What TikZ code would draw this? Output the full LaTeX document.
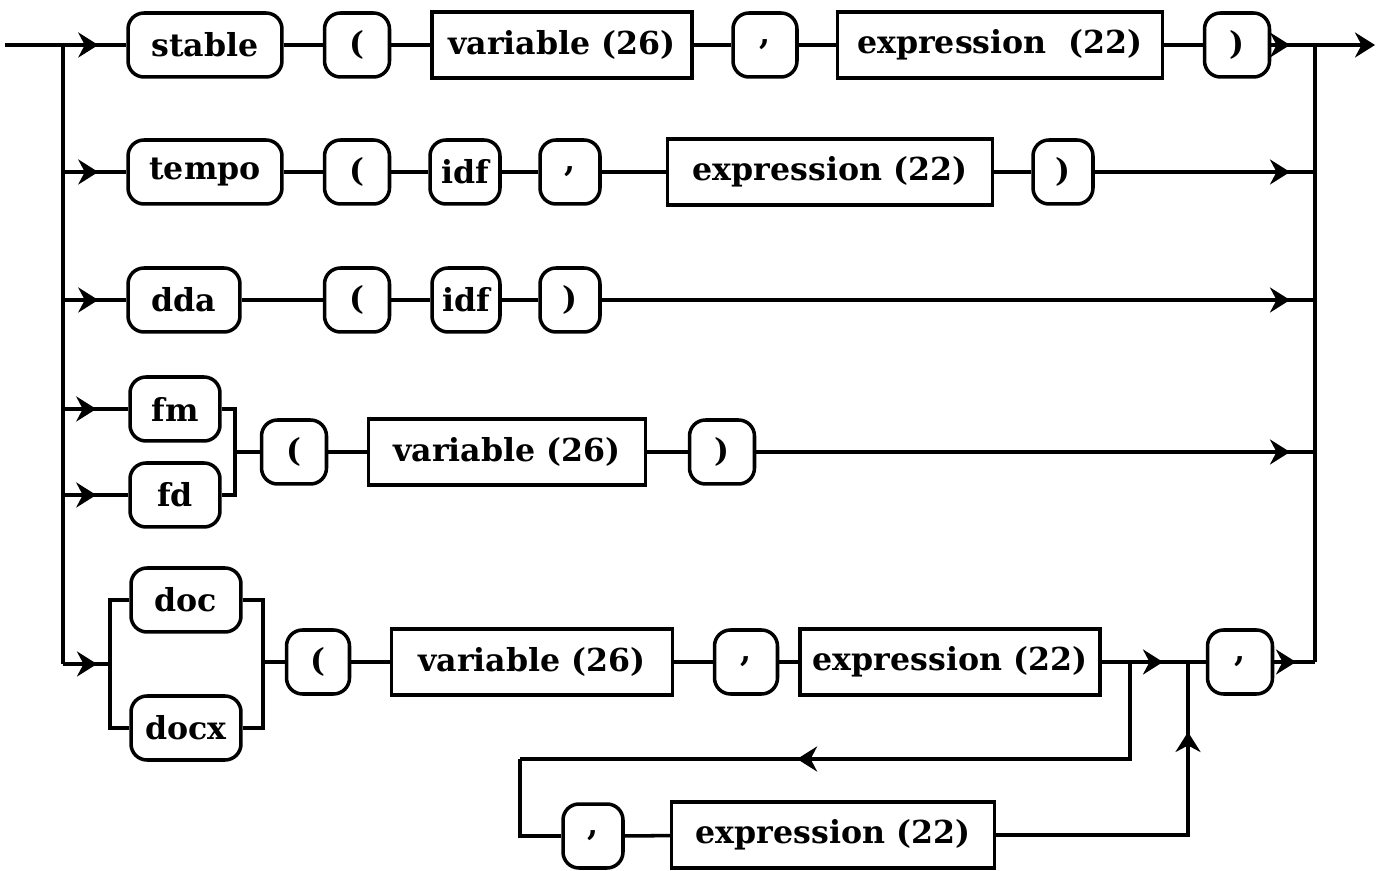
\documentclass[tikz,border=0pt]{standalone}
\usepackage{fontspec}
\setmainfont{DejaVu Serif}
\usetikzlibrary{arrows.meta,decorations.markings}
\tikzset{
  term/.style={draw,rounded corners=0.32cm,minimum height=1.28cm,inner sep=0pt,
               font=\fontsize{18}{22}\selectfont\bfseries},
  nonterm/.style={draw,minimum height=1.32cm,inner sep=0pt,
                  font=\fontsize{18}{22}\selectfont\bfseries},
  flow/.style={line width=2pt},
  midarrow/.style={postaction={decorate},decoration={markings,
                   mark=at position #1 with {\arrow{Stealth[length=4mm,width=5mm,inset=1.3mm]}}}},
}

\begin{document}
\begin{tikzpicture}[x=0.02cm,y=-0.02cm,line width=2pt]
  \useasboundingbox (0,0) rectangle (1384,871);
  % row 1
  \node[term] (stable) at (205,45) [minimum width=3.08cm] {stable};
  \node[term] (lpa) at (357,45) [minimum width=1.3cm] {(};
  \node[nonterm] (vara) at (562,45) [minimum width=5.2cm] {variable (26)};
  \node[term] (cma) at (765,45) [minimum width=1.28cm] {,};
  \node[nonterm] (expa) at (1000,45) [minimum width=6.5cm] {expression\ \ (22)};
  \node[term] (rpa) at (1237,45) [minimum width=1.3cm] {)};
  % row 2
  \node[term] (tempo) at (205,172) [minimum width=3.08cm] {tempo};
  \node[term] (lpb) at (357,172) [minimum width=1.3cm] {(};
  \node[term] (idfb) at (465,172) [minimum width=1.4cm] {idf};
  \node[term] (cmb) at (570,172) [minimum width=1.2cm] {,};
  \node[nonterm] (expb) at (830,172) [minimum width=6.5cm] {expression (22)};
  \node[term] (rpb) at (1063,172) [minimum width=1.2cm] {)};
  % row 3
  \node[term] (dda) at (184,300) [minimum width=2.24cm] {dda};
  \node[term] (lpc) at (357,300) [minimum width=1.3cm] {(};
  \node[term] (idfc) at (466,300) [minimum width=1.36cm] {idf};
  \node[term] (rpc) at (570,300) [minimum width=1.2cm] {)};
  % row 4
  \node[term] (fm) at (175,409) [minimum width=1.8cm] {fm};
  \node[term] (fd) at (175,495) [minimum width=1.8cm] {fd};
  \node[term] (lpd) at (294,452) [minimum width=1.3cm] {(};
  \node[nonterm] (vard) at (507,452) [minimum width=5.54cm] {variable (26)};
  \node[term] (rpd) at (722,452) [minimum width=1.3cm] {)};
  % row 5
  \node[term] (doc) at (186,600) [minimum width=2.2cm] {doc};
  \node[term] (docx) at (186,728) [minimum width=2.2cm] {docx};
  \node[term] (lpe) at (318,662) [minimum width=1.26cm] {(};
  \node[nonterm] (vare) at (532,662) [minimum width=5.62cm] {variable (26)};
  \node[term] (cme) at (746,662) [minimum width=1.26cm] {,};
  \node[nonterm] (expe) at (950,662) [minimum width=6cm] {expression (22)};
  \node[term] (cmf) at (1240,662) [minimum width=1.3cm] {,};
  \node[term] (cmg) at (593,836) [minimum width=1.2cm] {,};
  \node[nonterm] (expg) at (833,835) [minimum width=6.46cm] {expression (22)};

  \coordinate (in) at (5,45);
  \coordinate (out) at (1375,45);
  \coordinate (la) at (63,45);  \coordinate (lb) at (63,172);
  \coordinate (lc) at (63,300); \coordinate (ld) at (63,409);
  \coordinate (lf) at (63,495); \coordinate (le) at (63,664);
  \coordinate (ra) at (1315,45);  \coordinate (rb) at (1315,172);
  \coordinate (rc) at (1315,300); \coordinate (rd) at (1315,452);
  \coordinate (re) at (1315,662);
  \coordinate (bd) at (235,452); \coordinate (bl) at (110,664);
  \coordinate (be) at (263,662);
  \coordinate (lp) at (1130,662); \coordinate (jn) at (1188,662);
  \coordinate (lk) at (520,759);

  % rails
  \draw[flow] (la) -- (le);
  \draw[flow] (ra) -- (re);
  \draw[flow,midarrow=-0.56cm] (in) -- (stable.west);
  \draw[flow,-{Stealth[length=4mm,width=5mm,inset=1.3mm]}] (ra) -- (out);
  % row 1
  \draw[flow] (stable) -- (lpa) (lpa) -- (vara) (vara) -- (cma) (cma) -- (expa) (expa) -- (rpa);
  \draw[flow,midarrow=-0.5cm] (rpa.east) -- (ra);
  % row 2
  \draw[flow,midarrow=-0.56cm] (lb) -- (tempo.west);
  \draw[flow] (tempo) -- (lpb) (lpb) -- (idfb) (idfb) -- (cmb) (cmb) -- (expb) (expb) -- (rpb);
  \draw[flow,midarrow=-0.5cm] (rpb.east) -- (rb);
  % row 3
  \draw[flow,midarrow=-0.56cm] (lc) -- (dda.west);
  \draw[flow] (dda) -- (lpc) (lpc) -- (idfc) (idfc) -- (rpc);
  \draw[flow,midarrow=-0.5cm] (rpc.east) -- (rc);
  % row 4
  \draw[flow,midarrow=-0.64cm] (ld) -- (fm.west);
  \draw[flow,midarrow=-0.64cm] (lf) -- (fd.west);
  \draw[flow] (fm.east) -| (bd) |- (fd.east);
  \draw[flow] (bd) -- (lpd.west) (lpd) -- (vard) (vard) -- (rpd);
  \draw[flow,midarrow=-0.5cm] (rpd.east) -- (rd);
  % row 5
  \draw[flow,midarrow=-0.26cm] (le) -- (bl);
  \draw[flow] (doc.west) -| (bl) |- (docx.west);
  \draw[flow] (doc.east) -| (be) |- (docx.east);
  \draw[flow] (be) -- (lpe.west) (lpe) -- (vare) (vare) -- (cme) (cme) -- (expe);
  \draw[flow,midarrow=-0.5cm] (expe.east) -- (jn);
  \draw[flow] (jn) -- (cmf.west);
  \draw[flow,midarrow=-0.38cm] (cmf.east) -- (re);
  % repetition loop
  \draw[flow,midarrow=8.6cm] (lp) |- (lk);
  \draw[flow] (lk) |- (cmg.west);
  \draw[flow] (cmg) -- (expg);
  \draw[flow,midarrow=-1.4cm] (expg.east) -| (jn);
\end{tikzpicture}
\end{document}
